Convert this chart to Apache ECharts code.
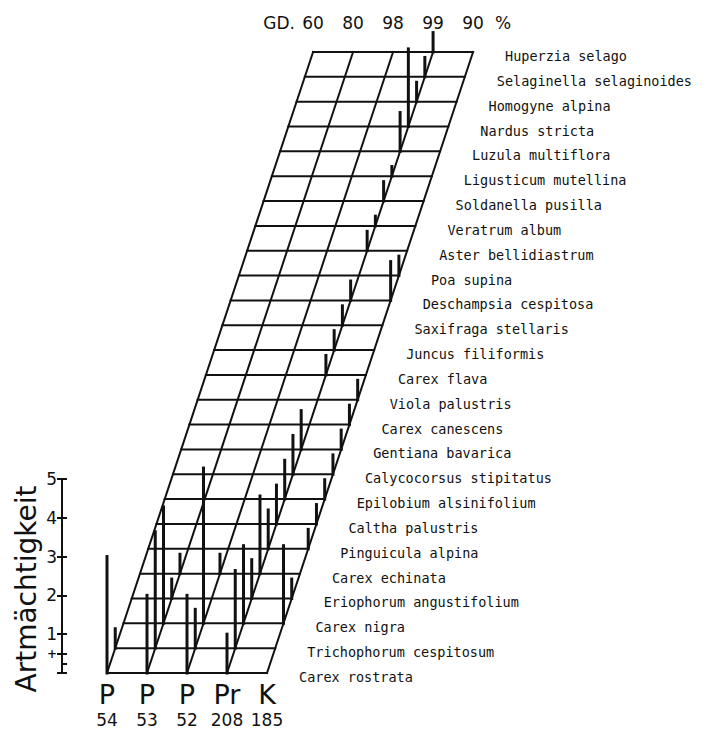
<!DOCTYPE html>
<html>
<head>
<meta charset="utf-8">
<title>Artmächtigkeit</title>
<script src="https://cdn.jsdelivr.net/npm/echarts@6/dist/echarts.min.js"></script>
<style>
  html, body { margin: 0; padding: 0; background: #fff; }
  #chart { width: 709px; height: 731px; }
</style>
</head>
<body>
<div id="chart"></div>
<script>
// species, top row of the diagram first
const species = [
  'Huperzia selago', 'Selaginella selaginoides', 'Homogyne alpina', 'Nardus stricta',
  'Luzula multiflora', 'Ligusticum mutellina', 'Soldanella pusilla', 'Veratrum album',
  'Aster bellidiastrum', 'Poa supina', 'Deschampsia cespitosa', 'Saxifraga stellaris',
  'Juncus filiformis', 'Carex flava', 'Viola palustris', 'Carex canescens',
  'Gentiana bavarica', 'Calycocorsus stipitatus', 'Epilobium alsinifolium', 'Caltha palustris',
  'Pinguicula alpina', 'Carex echinata', 'Eriophorum angustifolium', 'Carex nigra',
  'Trichophorum cespitosum', 'Carex rostrata'
];

const sites = ['P', 'P', 'P', 'Pr', 'K'];
const siteNumbers = ['54', '53', '52', '208', '185'];
const coverGD = ['60', '80', '98', '99', '90'];

// Artmächtigkeit per species (same order as species), null = not present
const p54 = [null, null, null, null, null, null, null, null, null, null, null, null, null,
  null, null, null, null, null, null, null, null, null, null, null, '+', 3];
const p53 = [null, null, null, null, null, null, null, null, null, null, null, null, null,
  null, null, null, null, null, null, null, null, '+', '+', 3, 3, 2];
const p52 = [null, null, null, null, null, null, null, null, null, null, null, null, null,
  null, null, null, null, null, null, null, null, '+', null, 4, 1, 2];
const pr208 = ['+', '+', '+', 2, 1, 'r', '+', 'r', '+', null, '+', '+', '+',
  '+', null, null, 1, 1, 1, 1, 1, 2, 1, 2, 2, 1];
const k185 = [null, null, null, null, null, null, null, null, null, '+', 1, null, null,
  null, '+', '+', '+', '+', '+', '+', '+', null, '+', 2, null, null];

const siteValues = [p54, p53, p52, pr208, k185];

// scale of the Artmächtigkeit axis
const levelTicks = ['r', '+', '1', '2', '3', '4', '5'];
const LEVEL = { r: 0.25, '+': 0.5, 1: 1, 2: 2, 3: 3, 4: 4, 5: 5 };

// oblique frame: rows are spaced in Artmächtigkeit units, each row shifts right
const ROW_GAP = 0.64;
const SKEW = 0.322;
const NROW = species.length;
const YMAX = (NROW - 1) * ROW_GAP;
const XSHIFT = YMAX * SKEW;
const X_MIN = -1;
const X_MAX = 4 + XSHIFT + 1;

const rowY = i => (NROW - 1 - i) * ROW_GAP;

const INK = '#111';

const barData = [];
siteValues.forEach((vals, j) => {
  vals.forEach((v, i) => {
    if (v !== null) barData.push([j, rowY(i), LEVEL[v]]);
  });
});

const rowData = species.map((s, i) => [rowY(i)]);
const siteData = sites.map((s, j) => [j]);
const labelData = species.map((s, i) => [4 + rowY(i) * SKEW, rowY(i)]);

function lineShape(p0, p1, width) {
  return {
    type: 'line',
    shape: { x1: p0[0], y1: p0[1], x2: p1[0], y2: p1[1] },
    style: { stroke: INK, lineWidth: width, lineCap: 'square' }
  };
}

const chart = echarts.init(document.getElementById('chart'), null, { renderer: 'svg' });

chart.setOption({
  animation: false,
  backgroundColor: '#fff',
  grid: [
    { left: 107 + X_MIN * 40, top: 52, width: (X_MAX - X_MIN) * 40, height: 621 },
    { left: 62, top: 673 - 5 * 621 / YMAX, width: 10, height: 5 * 621 / YMAX }
  ],
  graphic: [
    {
      // axis title, set a little lower than the axis centre as in the original
      type: 'text', x: 26, y: 589, rotation: Math.PI / 2,
      style: {
        text: 'Artmächtigkeit', fill: INK,
        font: '28px "DejaVu Sans"', textAlign: 'center', textVerticalAlign: 'middle'
      }
    }
  ],
  xAxis: [
    {
      gridIndex: 0, type: 'value', min: X_MIN, max: X_MAX, position: 'bottom',
      axisLine: { show: false }, axisTick: { show: false }, splitLine: { show: false },
      axisLabel: {
        customValues: [0, 1, 2, 3, 4],
        margin: 6,
        formatter: v => `{a|${sites[Math.round(v)]}}\n{b|${siteNumbers[Math.round(v)]}}`,
        rich: {
          a: { fontFamily: 'DejaVu Sans', fontSize: 27, lineHeight: 30, color: INK },
          b: { fontFamily: 'DejaVu Sans', fontSize: 17, lineHeight: 22, color: INK }
        }
      }
    },
    {
      gridIndex: 0, type: 'value', min: X_MIN, max: X_MAX, position: 'top',
      axisLine: { show: false }, axisTick: { show: false }, splitLine: { show: false },
      axisLabel: {
        customValues: [XSHIFT - 0.85, XSHIFT, XSHIFT + 1, XSHIFT + 2, XSHIFT + 3, XSHIFT + 4, XSHIFT + 4.75],
        margin: 21,
        fontFamily: 'DejaVu Sans', fontSize: 17, color: INK,
        formatter: v => {
          const d = v - XSHIFT;
          if (d < -0.5) return 'GD.';
          if (d > 4.5) return '%';
          return coverGD[Math.round(d)];
        }
      }
    },
    { gridIndex: 1, type: 'value', show: false, min: 0, max: 1 }
  ],
  yAxis: [
    { gridIndex: 0, type: 'value', show: false, min: 0, max: YMAX },
    {
      gridIndex: 1, type: 'value', min: 0, max: 5, position: 'left',
      axisLine: { show: true, lineStyle: { color: INK, width: 2 } },
      axisTick: { show: true, length: 5, customValues: [0, 0.25, 0.5, 1, 2, 3, 4, 5], lineStyle: { color: INK, width: 2 } },
      splitLine: { show: false },
      axisLabel: {
        customValues: [0.25, 0.5, 1, 2, 3, 4, 5],
        margin: 5,
        formatter: v => {
          if (v < 0.4) return `{s|${levelTicks[0]}}`;
          if (v < 0.9) return `{s|${levelTicks[1]}}`;
          return levelTicks[Math.round(v) + 1];
        },
        fontFamily: 'DejaVu Sans', fontSize: 17, color: INK,
        rich: { s: { fontFamily: 'DejaVu Sans', fontSize: 12, fontWeight: 'bold', color: INK } }
      }
    },
    {
      gridIndex: 1, type: 'value', min: 0, max: 5, position: 'left',
      axisLine: { show: false },
      axisTick: { show: true, inside: true, length: 5, customValues: [0, 0.25, 0.5, 1, 2, 3, 4, 5], lineStyle: { color: INK, width: 2 } },
      axisLabel: { show: false }, splitLine: { show: false }
    }
  ],
  series: [
    {
      // horizontal species lines
      type: 'custom', xAxisIndex: 0, yAxisIndex: 0, clip: false, silent: true,
      data: rowData,
      renderItem: (params, api) => {
        const y = api.value(0);
        return lineShape(api.coord([y * SKEW, y]), api.coord([4 + y * SKEW, y]), 2);
      }
    },
    {
      // oblique site lines
      type: 'custom', xAxisIndex: 0, yAxisIndex: 0, clip: false, silent: true,
      data: siteData,
      renderItem: (params, api) => {
        const j = api.value(0);
        return lineShape(api.coord([j, 0]), api.coord([j + XSHIFT, YMAX]), 2);
      }
    },
    {
      // Artmächtigkeit bars
      type: 'custom', xAxisIndex: 0, yAxisIndex: 0, clip: false, silent: true,
      data: barData,
      renderItem: (params, api) => {
        const y = api.value(1);
        const x = api.value(0) + y * SKEW;
        return lineShape(api.coord([x, y]), api.coord([x, y + api.value(2)]), 3);
      }
    },
    {
      // species names beside the frame
      type: 'custom', xAxisIndex: 0, yAxisIndex: 0, clip: false, silent: true,
      data: labelData,
      renderItem: (params, api) => {
        const p = api.coord([api.value(0), api.value(1)]);
        return {
          type: 'text',
          x: p[0] + 32, y: p[1] + 4,
          style: {
            text: species[params.dataIndex],
            fill: INK, font: '13.5px "DejaVu Sans Mono"',
            textAlign: 'left', textVerticalAlign: 'middle'
          }
        };
      }
    }
  ]
});
</script>
</body>
</html>
